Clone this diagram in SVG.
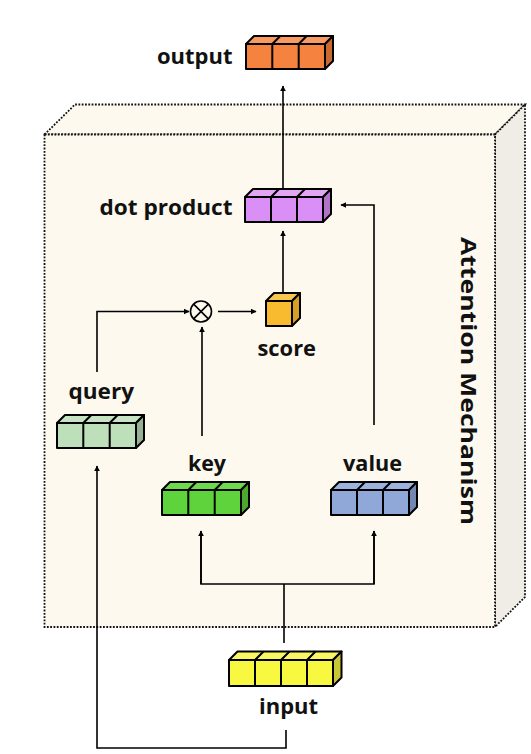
<svg xmlns="http://www.w3.org/2000/svg" width="531" height="754" viewBox="0 0 531 754">
<style>
.lbl{font-family:"Open Sans",Lato,"Liberation Sans",sans-serif;font-weight:bold;font-size:21px;fill:#111}
.cube{stroke:#000;stroke-width:2;stroke-linejoin:round}
.cell{stroke:#000;stroke-width:2;fill:none}
.conn{stroke:#000;stroke-width:1.6;fill:none}
.box{stroke:#111;stroke-width:1.8;stroke-dasharray:1.8 1.5}
</style>
<defs>
<marker id="arr" viewBox="0 0 10 10" refX="9" refY="5" markerWidth="6" markerHeight="6" markerUnits="userSpaceOnUse" orient="auto">
<path d="M0,0 L10,5 L0,10 z" fill="#000"/>
</marker>
</defs>
<rect width="531" height="754" fill="#fff"/>

<g id="attention-box">
<polygon class="box" points="44.5,134.5 75,104.5 525,104.5 495,134.5" fill="#fdf9ee"/>
<polygon class="box" points="495,134.5 525,104.5 525,597 495,627" fill="#efede6"/>
<rect class="box" x="44.5" y="134.5" width="450.5" height="492.5" fill="#fdf9ee"/>
<text class="lbl" transform="translate(460.5,237) rotate(90)" font-size="18.5" textLength="288" lengthAdjust="spacingAndGlyphs">Attention Mechanism</text>
</g>

<g id="connectors">
<line class="conn" x1="283" y1="188" x2="283" y2="86" marker-end="url(#arr)"/>
<line class="conn" x1="283" y1="292" x2="283" y2="231" marker-end="url(#arr)"/>
<line class="conn" x1="218" y1="311.5" x2="256" y2="311.5" marker-end="url(#arr)"/>
<polyline class="conn" points="97,372 97,311.5 189,311.5" marker-end="url(#arr)"/>
<line class="conn" x1="202" y1="436" x2="202" y2="327" marker-end="url(#arr)"/>
<polyline class="conn" points="374,425 374,205 341,205" marker-end="url(#arr)"/>
<line class="conn" x1="284" y1="643" x2="284" y2="584"/>
<polyline class="conn" points="201,531 201,584 374,584 374,531"/>
<line class="conn" x1="201" y1="584" x2="201" y2="531" marker-end="url(#arr)"/>
<line class="conn" x1="374" y1="584" x2="374" y2="531" marker-end="url(#arr)"/>
<polyline class="conn" points="286,730 286,748 97,748 97,466" marker-end="url(#arr)"/>
</g>

<g id="multiply">
<circle cx="201" cy="311.5" r="10.5" fill="#fdf9ee" stroke="#000" stroke-width="1.6"/>
<line x1="193.6" y1="304.1" x2="208.4" y2="318.9" stroke="#000" stroke-width="1.6"/>
<line x1="208.4" y1="304.1" x2="193.6" y2="318.9" stroke="#000" stroke-width="1.6"/>
</g>

<g id="output">
<polygon class="cube" points="246,44 254,36 333,36 325,44" fill="#f89a62"/>
<polygon class="cube" points="325,44 333,36 333,61 325,69" fill="#c8692f"/>
<rect class="cube" x="246" y="44" width="79" height="25" fill="#f6823f"/>
<path class="cell" d="M272.3,44 V69 M298.7,44 V69 M272.3,44 L280.3,36 M298.7,44 L306.7,36"/>
<text class="lbl" x="157" y="63.5" textLength="75.5" lengthAdjust="spacingAndGlyphs">output</text>
</g>

<g id="dot-product">
<polygon class="cube" points="245,197 253,189 331,189 323,197" fill="#e2a6f5"/>
<polygon class="cube" points="323,197 331,189 331,214 323,222" fill="#b173c7"/>
<rect class="cube" x="245" y="197" width="78" height="25" fill="#da8ff6"/>
<path class="cell" d="M271,197 V222 M297,197 V222 M271,197 L279,189 M297,197 L305,189"/>
<text class="lbl" x="99.5" y="215" textLength="133" lengthAdjust="spacingAndGlyphs">dot product</text>
</g>

<g id="score">
<polygon class="cube" points="266,301 274,293 300,293 292,301" fill="#f9c64f"/>
<polygon class="cube" points="292,301 300,293 300,318 292,326" fill="#d49e27"/>
<rect class="cube" x="266" y="301" width="26" height="25" fill="#f8bb30"/>
<text class="lbl" x="257.5" y="355.5" textLength="58.5" lengthAdjust="spacingAndGlyphs">score</text>
</g>

<g id="query">
<polygon class="cube" points="57,423 65,415 144,415 136,423" fill="#c6e3c4"/>
<polygon class="cube" points="136,423 144,415 144,440 136,448" fill="#95b295"/>
<rect class="cube" x="57" y="423" width="79" height="25" fill="#bde0bb"/>
<path class="cell" d="M83.3,423 V448 M109.7,423 V448 M83.3,423 L91.3,415 M109.7,423 L117.7,415"/>
<text class="lbl" x="68.5" y="399" textLength="65.5" lengthAdjust="spacingAndGlyphs">query</text>
</g>

<g id="key">
<polygon class="cube" points="162,490 170,482 249,482 241,490" fill="#6ed94d"/>
<polygon class="cube" points="241,490 249,482 249,507 241,515" fill="#4ca82f"/>
<rect class="cube" x="162" y="490" width="79" height="25" fill="#5fd33b"/>
<path class="cell" d="M188.3,490 V515 M214.7,490 V515 M188.3,490 L196.3,482 M214.7,490 L222.7,482"/>
<text class="lbl" x="188" y="470.5" textLength="38" lengthAdjust="spacingAndGlyphs">key</text>
</g>

<g id="value">
<polygon class="cube" points="331,490 339,482 417,482 409,490" fill="#9db3dd"/>
<polygon class="cube" points="409,490 417,482 417,507 409,515" fill="#7388b0"/>
<rect class="cube" x="331" y="490" width="78" height="25" fill="#8fa8d8"/>
<path class="cell" d="M357,490 V515 M383,490 V515 M357,490 L365,482 M383,490 L391,482"/>
<text class="lbl" x="343" y="470.5" textLength="59" lengthAdjust="spacingAndGlyphs">value</text>
</g>

<g id="input">
<polygon class="cube" points="229,660 237.5,651.5 341.5,651.5 333,660" fill="#f9f862"/>
<polygon class="cube" points="333,660 341.5,651.5 341.5,677.5 333,686" fill="#c9c834"/>
<rect class="cube" x="229" y="660" width="104" height="26" fill="#f9f841"/>
<path class="cell" d="M255,660 V686 M281,660 V686 M307,660 V686 M255,660 L263.5,651.5 M281,660 L289.5,651.5 M307,660 L315.5,651.5"/>
<text class="lbl" x="259" y="714" textLength="59" lengthAdjust="spacingAndGlyphs">input</text>
</g>
</svg>
